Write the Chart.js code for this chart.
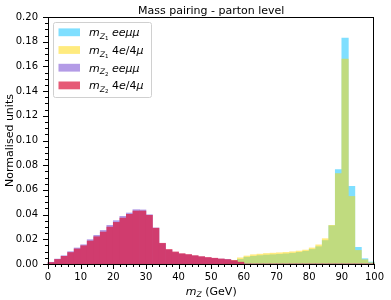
<!DOCTYPE html>
<html>
<head>
<meta charset="utf-8">
<script src="https://cdn.jsdelivr.net/npm/chart.js@4.4.1/dist/chart.umd.min.js"></script>
<style>
html, body { margin: 0; padding: 0; background: #fff; }
#wrap { width: 391px; height: 300px; }
</style>
</head>
<body>
<div id="wrap"><canvas id="massChart" width="391" height="300"></canvas></div>
<script>
// bin centres (2 GeV bins, 0-100)
var binCenters = [1, 3, 5, 7, 9, 11, 13, 15, 17, 19, 21, 23, 25, 27, 29, 31, 33, 35, 37, 39,
                  41, 43, 45, 47, 49, 51, 53, 55, 57, 59, 61, 63, 65, 67, 69, 71, 73, 75, 77, 79,
                  81, 83, 85, 87, 89, 91, 93, 95, 97, 99];

// m_Z1 eemumu
var z1_eemm = [0, 0, 0, 0, 0, 0, 0, 0, 0, 0,
               0, 0, 0, 0, 0, 0, 0, 0, 0, 0,
               0, 0, 0, 0, 0, 0, 0, 0.0004, 0.0018, 0.0038,
               0.0055, 0.0062, 0.0068, 0.0072, 0.0075, 0.0078, 0.0082, 0.0087, 0.0094, 0.0103,
               0.0118, 0.0140, 0.0190, 0.0310, 0.0764, 0.1830, 0.0629, 0.0135, 0.0043, 0.0016];
// m_Z1 4e/4mu
var z1_4e4m = [0, 0, 0, 0, 0, 0, 0, 0, 0, 0,
               0, 0, 0, 0, 0, 0, 0, 0, 0, 0,
               0, 0, 0, 0, 0, 0, 0, 0.0006, 0.0030, 0.0050,
               0.0065, 0.0075, 0.0080, 0.0085, 0.0088, 0.0091, 0.0094, 0.0099, 0.0105, 0.0113,
               0.0130, 0.0155, 0.0205, 0.0313, 0.0732, 0.1660, 0.0547, 0.0110, 0.0035, 0.0010];
// m_Z2 eemumu
var z2_eemm = [0.0014, 0.0040, 0.0067, 0.0100, 0.0130, 0.0156, 0.0197, 0.0232, 0.0272, 0.0313,
               0.0351, 0.0386, 0.0413, 0.0440, 0.0438, 0.0399, 0.0292, 0.0165, 0.0112, 0.0093,
               0.0080, 0.0073, 0.0065, 0.0057, 0.0050, 0.0045, 0.0040, 0.0037, 0.0026, 0.0012,
               0, 0, 0, 0, 0, 0, 0, 0, 0, 0,
               0, 0, 0, 0, 0, 0, 0, 0, 0, 0];
// m_Z2 4e/4mu
var z2_4e4m = [0.0012, 0.0037, 0.0062, 0.0093, 0.0122, 0.0148, 0.0186, 0.0221, 0.0259, 0.0299,
               0.0337, 0.0372, 0.0402, 0.0429, 0.0429, 0.0394, 0.0290, 0.0168, 0.0118, 0.0098,
               0.0084, 0.0077, 0.0068, 0.0060, 0.0053, 0.0047, 0.0041, 0.0036, 0.0028, 0.0015,
               0, 0, 0, 0, 0, 0, 0, 0, 0, 0,
               0, 0, 0, 0, 0, 0, 0, 0, 0, 0];

var baseColors = ['rgb(0,191,255)', 'rgb(255,215,0)', 'rgb(147,112,219)', 'rgb(220,20,60)'];
var alphas = [0.5, 0.5, 0.7, 0.7];
var colors = ['rgba(0,191,255,0.5)', 'rgba(255,215,0,0.5)', 'rgba(147,112,219,0.7)', 'rgba(220,20,60,0.7)'];

// legend labels, split in pieces for italic / subscripts
var legendLabels = [
	[{t:'m', it:1}, {t:'Z', it:1, s:0.7, dy:2.5}, {t:'1', s:0.5, dy:4}, {t:' '}, {t:'eeμμ', it:1}],
	[{t:'m', it:1}, {t:'Z', it:1, s:0.7, dy:2.5}, {t:'1', s:0.5, dy:4}, {t:' 4'}, {t:'e', it:1}, {t:'/4'}, {t:'μ', it:1}],
	[{t:'m', it:1}, {t:'Z', it:1, s:0.7, dy:2.5}, {t:'2', s:0.5, dy:4}, {t:' '}, {t:'eeμμ', it:1}],
	[{t:'m', it:1}, {t:'Z', it:1, s:0.7, dy:2.5}, {t:'2', s:0.5, dy:4}, {t:' 4'}, {t:'e', it:1}, {t:'/4'}, {t:'μ', it:1}]
];
var xTitle = [{t:'m', it:1}, {t:'Z', it:1, s:0.7, dy:2.5}, {t:' (GeV)'}];
var chartTitle = 'Mass pairing - parton level';

function toPoints(arr){
	return arr.map(function(v, i){ return {x: binCenters[i], y: v}; });
}

var FONT = '"DejaVu Sans", sans-serif';

function richWidth(ctx, parts, size){
	var w = 0;
	parts.forEach(function(p){
		ctx.font = (p.it ? 'italic ' : '') + (size * (p.s || 1)) + 'px ' + FONT;
		w += ctx.measureText(p.t).width;
	});
	return w;
}
function drawRich(ctx, parts, x, y, size){
	parts.forEach(function(p){
		ctx.font = (p.it ? 'italic ' : '') + (size * (p.s || 1)) + 'px ' + FONT;
		ctx.fillText(p.t, x, y + (p.dy || 0));
		x += ctx.measureText(p.t).width;
	});
}

// each histogram is drawn opaque on its own layer, then blended with its alpha
// (avoids seams between neighbouring bins)
var layerPlugin = {
	id: 'layer',
	beforeDatasetDraw: function(chart, args){
		var c = args.meta.controller;
		var off = document.createElement('canvas');
		off.width = chart.canvas.width;
		off.height = chart.canvas.height;
		c._mainCtx = c._ctx;
		c._ctx = off.getContext('2d');
		c._off = off;
	},
	afterDatasetDraw: function(chart, args){
		var c = args.meta.controller;
		c._ctx = c._mainCtx;
		var ctx = chart.ctx;
		ctx.save();
		ctx.globalAlpha = alphas[args.index];
		ctx.drawImage(c._off, 0, 0);
		ctx.restore();
	}
};

var decorPlugin = {
	id: 'decor',
	afterDraw: function(chart){
		var ctx = chart.ctx;
		var a = chart.chartArea;
		var xs = chart.scales.x, ys = chart.scales.y;
		ctx.save();
		ctx.strokeStyle = '#000';
		ctx.lineWidth = 1;
		// frame
		ctx.strokeRect(Math.round(a.left) + 0.5, Math.round(a.top) + 0.5,
			Math.round(a.right - a.left) - 1, Math.round(a.bottom - a.top));
		// tick marks
		ctx.beginPath();
		var i, p;
		for (i = 0; i <= 50; i++) {
			p = Math.round(xs.getPixelForValue(i * 2)) + 0.5;
			var len = (i % 5 === 0) ? 5 : 3;
			ctx.moveTo(p, a.bottom);
			ctx.lineTo(p, a.bottom + len);
		}
		for (i = 0; i <= 40; i++) {
			p = Math.round(ys.getPixelForValue(i * 0.005)) + 0.5;
			var l2 = (i % 4 === 0) ? 5 : 3;
			ctx.moveTo(a.left, p);
			ctx.lineTo(a.left - l2, p);
		}
		ctx.stroke();

		ctx.fillStyle = '#000';
		ctx.textBaseline = 'alphabetic';
		// title
		ctx.font = '11px ' + FONT;
		ctx.textAlign = 'center';
		ctx.fillText(chartTitle, (a.left + a.right) / 2, 13.5);
		ctx.textAlign = 'left';
		// x axis title
		var w = richWidth(ctx, xTitle, 11);
		drawRich(ctx, xTitle, (a.left + a.right) / 2 - w / 2, 294.5, 11);

		// legend
		var lx = 53.5, ly = 22.5, lw = 98, lh = 75;
		ctx.beginPath();
		ctx.roundRect(lx, ly, lw, lh, 2);
		ctx.fillStyle = 'rgba(255,255,255,0.8)';
		ctx.fill();
		ctx.strokeStyle = '#d0d0d0';
		ctx.stroke();
		legendLabels.forEach(function(parts, k){
			var cy = 32.3 + k * 17.7;
			ctx.fillStyle = colors[k];
			ctx.fillRect(58.5, cy - 3.9, 21.5, 7.8);
			ctx.fillStyle = '#000';
			drawRich(ctx, parts, 89, cy + 4, 11);
		});
		ctx.restore();
	}
};

var names = ['mZ1 eemumu', 'mZ1 4e/4mu', 'mZ2 eemumu', 'mZ2 4e/4mu'];
var series = [z1_eemm, z1_4e4m, z2_eemm, z2_4e4m];
var datasets = series.map(function(s, k){
	return {
		label: names[k],
		data: toPoints(s),
		backgroundColor: baseColors[k],
		borderWidth: 0,
		grouped: false,
		barPercentage: 1,
		categoryPercentage: 1,
		order: 4 - k
	};
});

var massChart = new Chart(document.getElementById('massChart'), {
	type: 'bar',
	data: { datasets: datasets },
	plugins: [layerPlugin, decorPlugin],
	options: {
		responsive: false,
		animation: false,
		devicePixelRatio: 1,
		layout: { padding: { top: 17, right: 12, left: 0, bottom: 0 } },
		plugins: { legend: { display: false }, title: { display: false }, tooltip: { enabled: false } },
		scales: {
			x: {
				type: 'linear',
				min: 0, max: 100,
				offset: false,
				grid: { display: false, drawTicks: false },
				border: { display: false },
				ticks: { stepSize: 10, padding: 7, color: '#000', maxRotation: 0,
					font: { family: 'DejaVu Sans', size: 10 } },
				afterFit: function(scale){ scale.height = 36; }
			},
			y: {
				min: 0, max: 0.2,
				grid: { display: false, drawTicks: false },
				border: { display: false },
				ticks: { stepSize: 0.02, padding: 10, color: '#000',
					font: { family: 'DejaVu Sans', size: 10 },
					callback: function(v){ return v.toFixed(2); } },
				title: { display: true, text: 'Normalised units', color: '#000',
					font: { family: 'DejaVu Sans', size: 11 }, padding: { top: 4, bottom: 0 } },
				afterFit: function(scale){ scale.width = 48; }
			}
		}
	}
});
</script>
</body>
</html>
